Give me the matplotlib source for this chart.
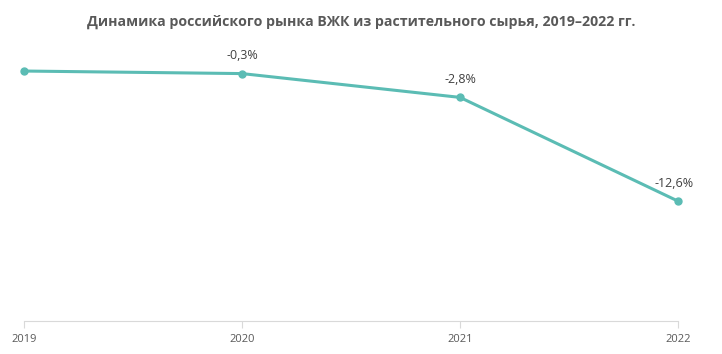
import matplotlib.pyplot as plt

plt.rcParams['font.family'] = ['Open Sans', 'DejaVu Sans']

years = ['2019', '2020', '2021', '2022']
# market index, 2019 = 100, chained by year-on-year change
index_values = [100.0, 99.7, 96.9, 84.7]
change_labels = ['', '-0,3%', '-2,8%', '-12,6%']

line_color = '#5bbcb4'
text_color = '#595959'

fig = plt.figure(figsize=(7.22, 3.54), dpi=100)
ax = fig.add_axes([24 / 722, 1 - 321 / 354, (678 - 24) / 722, 281 / 354])

x = list(range(len(years)))
ax.plot(x, index_values, color=line_color, linewidth=2.2, marker='o', markersize=5, clip_on=False)

for xi, yi, lab in zip(x, index_values, change_labels):
    if lab:
        ax.annotate(lab, (xi, yi), xytext=(-3 if xi == 3 else 0, 8), textcoords='offset points',
                    ha='center', va='bottom', fontsize=9, color='#404040')

ax.set_xlim(0, 3)
ax.set_ylim(70.6, 103.65)
ax.set_xticks(x)
ax.set_xticklabels(years, fontsize=8, color=text_color)
ax.set_yticks([])
for side in ['top', 'right', 'left']:
    ax.spines[side].set_visible(False)
ax.spines['bottom'].set_color('#d9d9d9')
ax.tick_params(axis='x', colors='#d9d9d9', length=5, pad=4, labelcolor=text_color)

fig.suptitle('Динамика российского рынка ВЖК из растительного сырья, 2019–2022 гг.',
             y=1 - 22 / 354, va='center', fontsize=10.2, fontweight='bold', color=text_color)

plt.savefig('out.png', dpi=100)
